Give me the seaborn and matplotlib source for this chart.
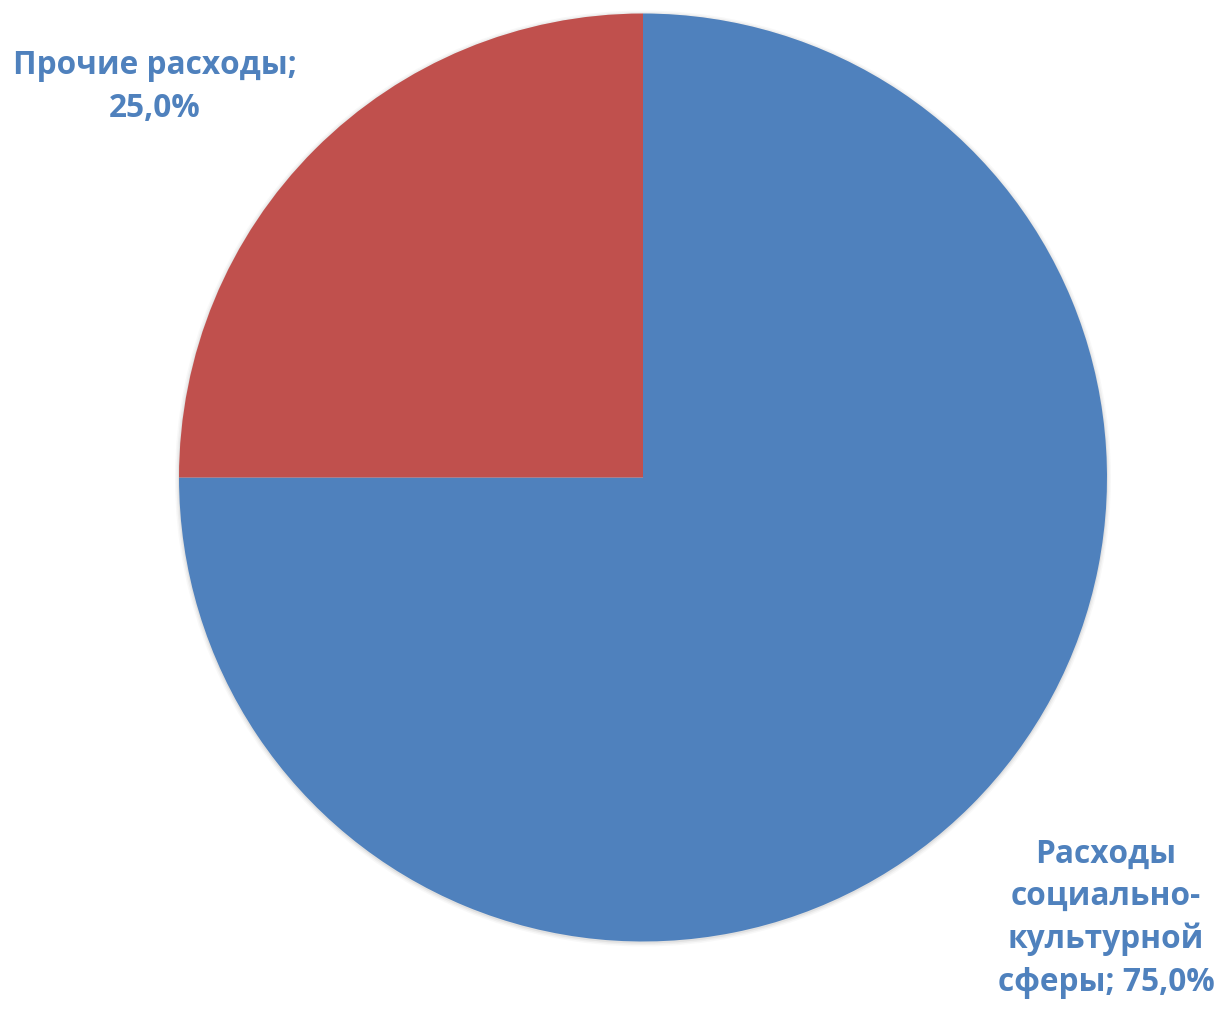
import seaborn as sns
import matplotlib.pyplot as plt
from matplotlib.patches import Circle

# данные
categories = ["Расходы социально-культурной сферы", "Прочие расходы"]
shares = [75.0, 25.0]
label_texts = ["Расходы\nсоциально-\nкультурной\nсферы; 75,0%", "Прочие расходы;\n25,0%"]
colors = ["#4F81BD", "#C0504D"]

sns.set_theme(style="white")
plt.rcParams['font.family'] = ['Open Sans', 'DejaVu Sans']

W, H = 1220, 1009
fig = plt.figure(figsize=(W / 100, H / 100), dpi=100)
ax = fig.add_axes([0, 0, 1, 1])

cx, cy, r = 643, H - 477.5, 464

# лёгкая тень вокруг круга
for i, a in enumerate([0.05, 0.08, 0.12]):
    ax.add_patch(Circle((cx, cy - 1), r + 4 - i * 1.5, color='#808080', alpha=a, lw=0, zorder=0))

ax.pie(shares, colors=colors, startangle=90, counterclock=False,
       center=(cx, cy), radius=r, frame=True,
       wedgeprops=dict(linewidth=0))
ax.set_xlim(0, W)
ax.set_ylim(0, H)
ax.set_aspect('equal')
ax.axis('off')

ax.text(1106, H - 918, label_texts[0], ha='center', va='center', multialignment='center',
        fontsize=22.8, fontweight='bold', color='#4F81BD', linespacing=1.38)
ax.text(155, H - 87, label_texts[1], ha='center', va='center', multialignment='center',
        fontsize=22.8, fontweight='bold', color='#4F81BD', linespacing=1.38)

fig.savefig("out.png", dpi=100, facecolor='white')
